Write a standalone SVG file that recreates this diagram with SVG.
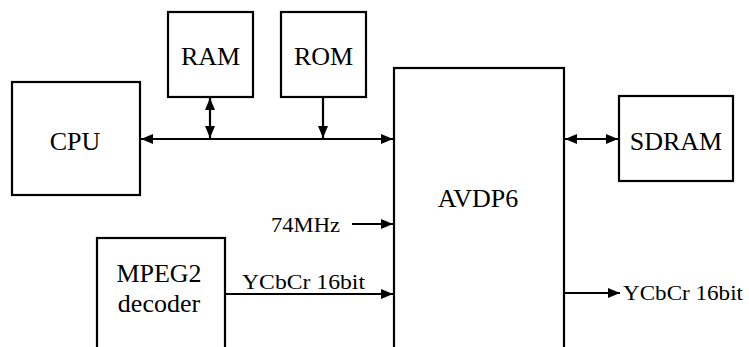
<svg xmlns="http://www.w3.org/2000/svg" width="749" height="347" viewBox="0 0 749 347">
<style>
.box{fill:#fff;stroke:#000;stroke-width:2.2}
.big{font-family:"Liberation Serif","DejaVu Serif",serif;font-size:26px;fill:#000;text-anchor:middle}
.sm{font-family:"Liberation Serif","DejaVu Serif",serif;font-size:21px;fill:#000}
.ln{stroke:#000;stroke-width:2.2;fill:none}
</style>
<defs>
<marker id="ah" viewBox="0 0 12 10" refX="12" refY="5" markerWidth="12" markerHeight="10" markerUnits="userSpaceOnUse" orient="auto-start-reverse">
<path d="M0,0 L12,5 L0,10 z" fill="#000"/>
</marker>
</defs>
<rect width="749" height="347" fill="#fff"/>
<g id="cpu"><rect class="box" x="12" y="82" width="128" height="113"/><text class="big" x="75" y="150">CPU</text></g>
<g id="ram"><rect class="box" x="168" y="12" width="85" height="85"/><text class="big" x="210.5" y="65">RAM</text></g>
<g id="rom"><rect class="box" x="281" y="12" width="85" height="85"/><text class="big" x="323.5" y="65">ROM</text></g>
<g id="avdp6"><rect class="box" x="394" y="68" width="170" height="290"/><text class="big" x="478" y="207">AVDP6</text></g>
<g id="sdram"><rect class="box" x="619" y="96" width="114" height="85"/><text class="big" x="676" y="150">SDRAM</text></g>
<g id="mpeg2"><rect class="box" x="97" y="238" width="128" height="120"/><text class="big" x="159" y="282">MPEG2</text><text class="big" x="159" y="312">decoder</text></g>
<g id="connectors">
<line class="ln" x1="141" y1="139" x2="393" y2="139" marker-start="url(#ah)" marker-end="url(#ah)"/>
<line class="ln" x1="210" y1="98" x2="210" y2="138" marker-start="url(#ah)" marker-end="url(#ah)"/>
<line class="ln" x1="323" y1="97" x2="323" y2="138" marker-end="url(#ah)"/>
<line class="ln" x1="565" y1="139" x2="618" y2="139" marker-start="url(#ah)" marker-end="url(#ah)"/>
<line class="ln" x1="352" y1="224" x2="393" y2="224" marker-end="url(#ah)"/>
<line class="ln" x1="226" y1="294" x2="393" y2="294" marker-end="url(#ah)"/>
<line class="ln" x1="565" y1="293" x2="620" y2="293" marker-end="url(#ah)"/>
<text class="sm" x="271" y="232" textLength="69" lengthAdjust="spacingAndGlyphs">74MHz</text>
<text class="sm" x="242" y="289" textLength="123" lengthAdjust="spacingAndGlyphs">YCbCr 16bit</text>
<text class="sm" x="623" y="300" textLength="120" lengthAdjust="spacingAndGlyphs">YCbCr 16bit</text>
</g>
</svg>
